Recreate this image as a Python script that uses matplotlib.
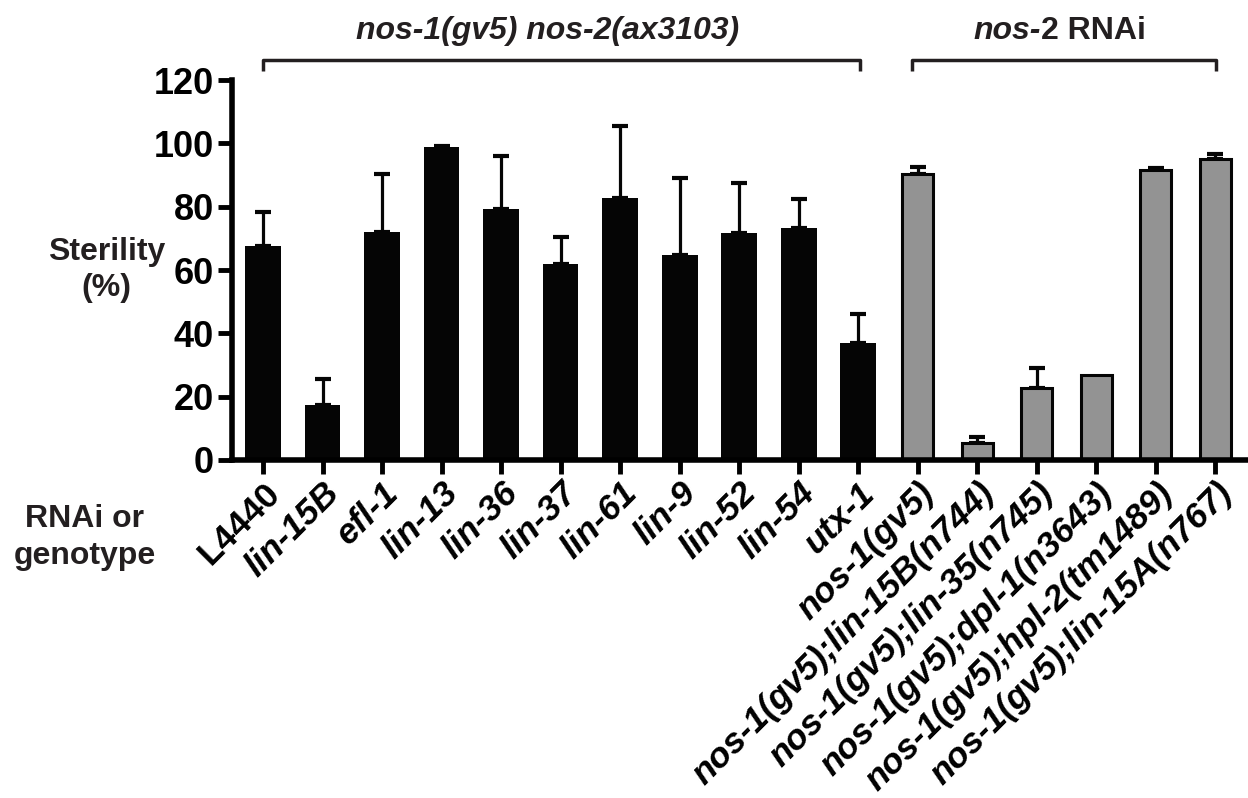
import numpy as np
import matplotlib.pyplot as plt
from matplotlib.transforms import blended_transform_factory

plt.rcParams['font.family'] = ['Liberation Sans', 'DejaVu Sans']
plt.rcParams['font.weight'] = 'bold'

labels = ["L4440", "lin-15B", "efl-1", "lin-13", "lin-36", "lin-37", "lin-61",
          "lin-9", "lin-52", "lin-54", "utx-1", "nos-1(gv5)",
          "nos-1(gv5);lin-15B(n744)", "nos-1(gv5);lin-35(n745)",
          "nos-1(gv5);dpl-1(n3643)", "nos-1(gv5);hpl-2(tm1489)",
          "nos-1(gv5);lin-15A(n767)"]
sterility = [67.7, 17.4, 71.9, 98.9, 79.3, 61.8, 82.7, 64.7, 71.8, 73.3, 37.0,
             90.3, 5.3, 22.6, 26.8, 91.5, 95.0]
err = [10.5, 8.1, 18.5, 0.4, 16.7, 8.7, 22.9, 24.3, 15.8, 9.2, 9.1,
       2.1, 2.0, 6.4, 0.0, 0.8, 1.5]
group = ["double"] * 11 + ["rnai"] * 6

x = np.arange(len(labels))
black = "#050505"
grey = "#939393"
dark = "#231f20"

fig = plt.figure(figsize=(12.48, 7.98), dpi=100)
ax = fig.add_axes([0.186, 0.4236, 0.814, 0.4761])

for i in x:
    if group[i] == "double":
        ax.bar(i, sterility[i], width=0.6, color=black, edgecolor=black,
               linewidth=0, zorder=2)
    else:
        ax.bar(i, sterility[i], width=0.52, color=grey, edgecolor=black,
               linewidth=2.2, zorder=2)
    if err[i] > 0:
        ax.errorbar(i, sterility[i], yerr=[[0], [err[i]]], fmt="none",
                    ecolor=black, elinewidth=2.3, capsize=6, capthick=3,
                    zorder=1)

ax.set_xlim(-0.52, 16.55)
ax.set_ylim(0, 120)
ax.set_yticks(np.arange(0, 121, 20))
ax.spines["top"].set_visible(False)
ax.spines["right"].set_visible(False)
ax.spines["left"].set_linewidth(4)
ax.spines["bottom"].set_linewidth(4)
ax.tick_params(axis="y", length=10, width=3.5, labelsize=26, pad=3)
ax.tick_params(axis="x", length=10, width=3.5, pad=2)

ax.set_xticks(x)
ax.set_xticklabels(labels, rotation=45, ha="right", va="top",
                   rotation_mode="anchor", fontsize=25.5)
for i, t in enumerate(ax.get_xticklabels()):
    if i > 0:
        t.set_style("italic")

ax.text(-0.124, 0.5, "Sterility\n(%)", transform=ax.transAxes, fontsize=23,
        ha="center", va="center", color=dark, linespacing=1.25)
fig.text(0.068, 0.327, "RNAi or\ngenotype", fontsize=23, ha="center",
         va="center", color=dark, linespacing=1.3)

# group brackets
btr = blended_transform_factory(ax.transData, fig.transFigure)
ylev, ydrop = 0.925, 0.911
for x0, x1 in [(0, 10.03), (10.9, 16.02)]:
    ax.plot([x0, x0, x1, x1], [ydrop, ylev, ylev, ydrop], color=dark,
            lw=2.5, transform=btr, clip_on=False, solid_capstyle="butt")

ax.text(4.78, 0.961, "nos-1(gv5) nos-2(ax3103)", transform=btr, fontsize=23,
        style="italic", ha="center", va="center", color=dark)
ax.text(13.07, 0.961, "nos-", transform=btr, fontsize=23, style="italic",
        ha="right", va="center", color=dark)
ax.text(13.07, 0.961, "2 RNAi", transform=btr, fontsize=23,
        ha="left", va="center", color=dark)

fig.savefig("out.png", dpi=100)
